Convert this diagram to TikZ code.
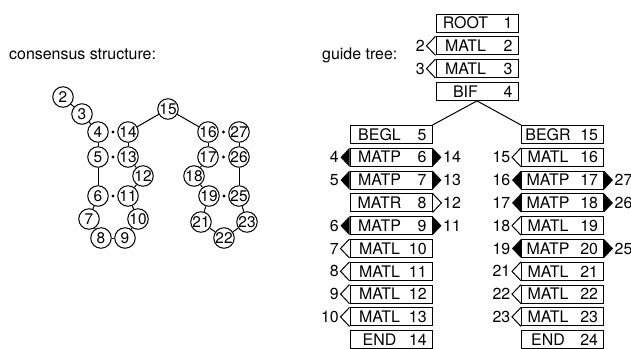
\documentclass[tikz,border=0pt]{standalone}
\usepackage{fontspec}
\setmainfont{TeX Gyre Heros}
\usetikzlibrary{calc}

\newcommand{\gtfont}{\fontsize{16}{18}\selectfont}
\newcommand{\resfont}{\fontsize{15.5}{16}\selectfont}
% one row of the guide tree: type centred at the left, number at the right
\newcommand{\gtrow}[3][59bp]{\hbox to 82bp{\hbox to #1{\hss #2\hss}\hfill #3\hspace{5.5bp}}}
% markers at the sides of a row
\newcommand{\leftopen}[2]{%
  \draw[gtline] (#1.north west) -- ([xshift=-9bp]#1.west) -- (#1.south west);
  \node[sidenum, anchor=east] (#1l) at ([xshift=-10.5bp]#1.west) {#2};}
\newcommand{\leftfull}[2]{%
  \fill (#1.north west) -- ([xshift=-9bp]#1.west) -- (#1.south west) -- cycle;
  \node[sidenum, anchor=east] (#1l) at ([xshift=-10.5bp]#1.west) {#2};}
\newcommand{\rightopen}[2]{%
  \draw[gtline] (#1.north east) -- ([xshift=9bp]#1.east) -- (#1.south east);
  \node[sidenum, anchor=west] (#1r) at ([xshift=10.5bp]#1.east) {#2};}
\newcommand{\rightfull}[2]{%
  \fill (#1.north east) -- ([xshift=9bp]#1.east) -- (#1.south east) -- cycle;
  \node[sidenum, anchor=west] (#1r) at ([xshift=10.5bp]#1.east) {#2};}

\tikzset{
  gtline/.style={line width=1bp},
  gtbox/.style={draw, gtline, minimum width=82bp, minimum height=18bp, inner sep=0pt, font=\gtfont},
  sidenum/.style={inner sep=0pt, font=\gtfont},
  res/.style={circle, draw, gtline, minimum size=20.5bp, inner sep=0pt, font=\resfont},
  backbone/.style={gtline}
}

\begin{document}
\begin{tikzpicture}[x=1bp, y=-1bp]
    \useasboundingbox (0,0) rectangle (631,348);

    \node[anchor=base west, inner sep=0pt, font=\gtfont] (constitle) at (9,59) {consensus structure:};
    \node[anchor=base west, inner sep=0pt, font=\gtfont] (guidetitle) at (322,59) {guide tree:};

    % consensus structure
    \node[res] (r2) at (63,97) {2};
    \node[res] (r3) at (82,114) {3};
    \node[res] (r4) at (98,132) {4};
    \node[res] (r5) at (98,157) {5};
    \node[res] (r6) at (98,196) {6};
    \node[res] (r7) at (89,219) {7};
    \node[res] (r8) at (101,238) {8};
    \node[res] (r9) at (125,238) {9};
    \node[res] (r10) at (138,219) {10};
    \node[res] (r11) at (128,196) {11};
    \node[res] (r12) at (143,176) {12};
    \node[res] (r13) at (128,157) {13};
    \node[res] (r14) at (128,132) {14};
    \node[res] (r15) at (168,109) {15};
    \node[res] (r16) at (208,132) {16};
    \node[res] (r17) at (208,157) {17};
    \node[res] (r18) at (194,176) {18};
    \node[res] (r19) at (209,196) {19};
    \node[res] (r21) at (201,222) {21};
    \node[res] (r22) at (224,238) {22};
    \node[res] (r23) at (247,222) {23};
    \node[res] (r25) at (239,196) {25};
    \node[res] (r26) at (239,157) {26};
    \node[res] (r27) at (239,132) {27};

    \foreach \a/\b in {2/3,3/4,4/5,5/6,6/7,7/8,8/9,9/10,10/11,11/12,12/13,13/14,14/15,
                       15/16,16/17,17/18,18/19,19/21,21/22,22/23,23/25,25/26,26/27}
        \draw[backbone] (r\a) -- (r\b);

    % base pairs
    \foreach \a/\b in {4/14,5/13,6/11,16/27,17/26,19/25}
        \fill ($(r\a)!0.5!(r\b)$) circle (1.7bp);

    % guide tree
    \node[gtbox] (root) at (477,23) {\gtrow{ROOT}{1}};
    \node[gtbox] (m2) at (477,45.8) {\gtrow{MATL}{2}};
    \node[gtbox] (m3) at (477,68.6) {\gtrow{MATL}{3}};
    \node[gtbox] (bif) at (477,91.4) {\gtrow{BIF}{4}};

    \node[gtbox] (begl) at (391,134.5) {\gtrow{BEGL}{5}};
    \node[gtbox] (m6) at (391,157.3) {\gtrow{MATP}{6}};
    \node[gtbox] (m7) at (391,180.1) {\gtrow{MATP}{7}};
    \node[gtbox] (m8) at (391,202.9) {\gtrow{MATR}{8}};
    \node[gtbox] (m9) at (391,225.7) {\gtrow{MATP}{9}};
    \node[gtbox] (m10) at (391,248.5) {\gtrow{MATL}{10}};
    \node[gtbox] (m11) at (391,271.3) {\gtrow{MATL}{11}};
    \node[gtbox] (m12) at (391,294.1) {\gtrow{MATL}{12}};
    \node[gtbox] (m13) at (391,316.9) {\gtrow{MATL}{13}};
    \node[gtbox] (endl) at (391,339.7) {\gtrow{END}{14}};

    \node[gtbox] (begr) at (562.5,134.5) {\gtrow[53bp]{BEGR}{15}};
    \node[gtbox] (m16) at (562.5,157.3) {\gtrow[53bp]{MATL}{16}};
    \node[gtbox] (m17) at (562.5,180.1) {\gtrow[53bp]{MATP}{17}};
    \node[gtbox] (m18) at (562.5,202.9) {\gtrow[53bp]{MATP}{18}};
    \node[gtbox] (m19) at (562.5,225.7) {\gtrow[53bp]{MATL}{19}};
    \node[gtbox] (m20) at (562.5,248.5) {\gtrow[53bp]{MATP}{20}};
    \node[gtbox] (m21) at (562.5,271.3) {\gtrow[53bp]{MATL}{21}};
    \node[gtbox] (m22) at (562.5,294.1) {\gtrow[53bp]{MATL}{22}};
    \node[gtbox] (m23) at (562.5,316.9) {\gtrow[53bp]{MATL}{23}};
    \node[gtbox] (endr) at (562.5,339.7) {\gtrow[53bp]{END}{24}};

    \draw[gtline] (bif.south) -- (begl.north east);
    \draw[gtline] (bif.south) -- (begr.north west);

    \leftopen{m2}{2}
    \leftopen{m3}{3}

    \leftfull{m6}{4}  \rightfull{m6}{14}
    \leftfull{m7}{5}  \rightfull{m7}{13}
    \rightopen{m8}{12}
    \leftfull{m9}{6}  \rightfull{m9}{11}
    \leftopen{m10}{7}
    \leftopen{m11}{8}
    \leftopen{m12}{9}
    \leftopen{m13}{10}

    \leftopen{m16}{15}
    \leftfull{m17}{16} \rightfull{m17}{27}
    \leftfull{m18}{17} \rightfull{m18}{26}
    \leftopen{m19}{18}
    \leftfull{m20}{19} \rightfull{m20}{25}
    \leftopen{m21}{21}
    \leftopen{m22}{22}
    \leftopen{m23}{23}
\end{tikzpicture}
\end{document}
